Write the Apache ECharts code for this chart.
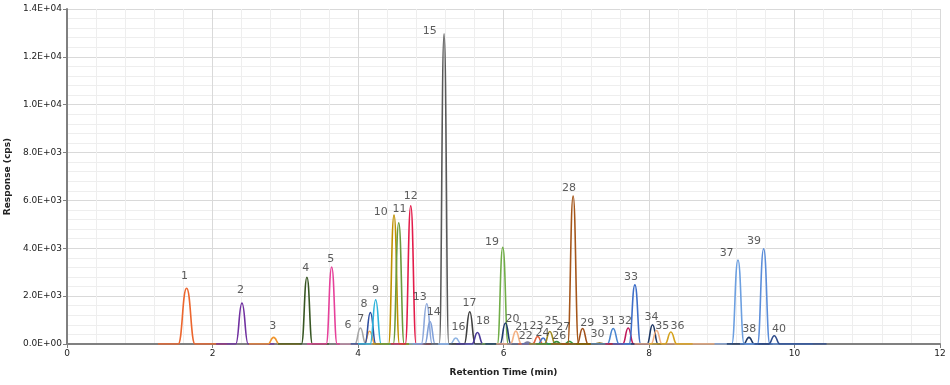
<!DOCTYPE html>
<html>
<head>
<meta charset="utf-8">
<script src="https://cdn.jsdelivr.net/npm/echarts@6/dist/echarts.min.js"></script>
<style>html,body{margin:0;padding:0;background:#fff}#c{width:950px;height:385px}</style>
</head>
<body>
<div id="c"></div>
<script>
// ---- data ----
const peakNames = ['1','2','3','4','5','6','7','8','9','10','11','12','13','14','15','16','17','18','19','20',
  '21','22','23','24','25','26','27','28','29','30','31','32','33','34','35','36','37','38','39','40'];
const apexTime = [1.644,2.405,2.84,3.298,3.638,4.16,4.033,4.17,4.243,4.495,4.56,4.725,4.945,4.99,5.183,5.344,5.536,5.642,5.99,6.027,
  6.17,6.33,6.47,6.545,6.637,6.73,6.905,6.957,7.087,7.32,7.508,7.714,7.806,8.049,8.104,8.301,9.223,9.374,9.576,9.722];
const apexHeight = [2330,1710,275,2790,3220,530,667,1317,1846,5390,5070,5780,1680,943,12960,250,1346,483,4040,875,
  540,80,316,250,525,100,110,6180,650,40,650,667,2470,804,567,500,3512,275,3983,346];
// full width at the foot of each peak (min)
const baseWidth = [0.23,0.17,0.16,0.15,0.15,0.15,0.15,0.15,0.15,0.15,0.15,0.15,0.15,0.14,0.13,0.15,0.15,0.15,0.15,0.15,
  0.15,0.14,0.14,0.14,0.15,0.14,0.14,0.15,0.15,0.14,0.16,0.15,0.16,0.15,0.15,0.16,0.17,0.15,0.17,0.15];
const traceStart = [1.25,2.05,2.5,2.9,3.3,3.9,3.75,3.9,4.0,4.2,4.3,4.45,4.7,4.75,4.9,5.1,5.25,5.35,5.7,5.75,
  5.9,6.05,6.2,6.25,6.35,6.45,6.6,6.65,6.8,7.0,7.2,7.4,7.5,7.75,7.8,8.0,8.9,9.07,9.25,9.45];
const traceEnd = [2.2,2.85,3.2,3.6,4.0,4.4,4.3,4.5,4.6,4.8,4.9,5.0,5.3,5.35,5.5,5.7,5.85,6.0,6.3,6.35,
  6.5,6.65,6.8,6.85,6.95,7.05,7.2,7.3,7.4,7.6,7.8,8.0,8.1,8.35,9.07,8.6,9.55,9.7,10.25,10.44];
const labelTime = [1.616,2.386,2.827,3.281,3.625,3.862,4.037,4.083,4.239,4.312,4.569,4.725,4.849,5.041,4.986,5.381,5.532,5.719,5.843,6.124,
  6.256,6.307,6.454,6.536,6.66,6.765,6.82,6.902,7.15,7.293,7.448,7.669,7.751,8.036,8.182,8.393,9.067,9.379,9.443,9.787];
const labelHeight = [2846,2263,763,3179,3554,775,1054,1679,2233,5525,5638,6179,1942,1333,13054,708,1708,942,4275,1054,
  692,317,733,458,971,346,692,6500,875,417,942,942,2792,1125,733,733,3792,637,4304,625];
const peakColors = ['#EC662E','#7030A0','#F0962E','#375623','#E6409A','#F4A048','#A6A6A6','#2F4FA0','#2EB4DC','#BF9000',
  '#6B9A3A','#E31C4A','#8EA9DB','#7F9FD8','#595959','#8EB4E3','#404040','#4B3A9A','#70AD47','#1F3A6E',
  '#F4B183','#7F7F9F','#E0603C','#4472C4','#A08A20','#3C8C3C','#2E9A3E','#A5561A','#A0501A','#7F6000',
  '#4A86D0','#C0185A','#3E6EC8','#1F3864','#F4B183','#D5A21D','#6C9FE0','#1F3864','#5B8DD9','#2F4C8C'];
const xTicks = [0,2,4,6,8,10,12];
const yTicks = [0,2000,4000,6000,8000,10000,12000,14000];

function expLabel(v){
  if (v === 0) return '0.0E+00';
  const e = Math.floor(Math.log10(v) + 1e-9);
  const m = (v / Math.pow(10, e)).toFixed(1);
  return m + 'E+' + (e < 10 ? '0' + e : e);
}

const series = peakNames.map((n, i) => ({
  type: 'line',
  name: 'Peak ' + n,
  smooth: 0.5,
  smoothMonotone: 'x',
  showSymbol: false,
  symbol: 'none',
  silent: true,
  lineStyle: { width: 1.6, color: peakColors[i] },
  itemStyle: { color: peakColors[i] },
  data: [
    [traceStart[i], 0],
    [apexTime[i] - baseWidth[i] / 2, 0],
    [apexTime[i], apexHeight[i]],
    [apexTime[i] + baseWidth[i] / 2, 0],
    [traceEnd[i], 0]
  ]
}));

series.push({
  type: 'scatter',
  symbolSize: 0,
  silent: true,
  z: 10,
  data: peakNames.map((n, i) => ({ value: [labelTime[i], labelHeight[i]], name: n })),
  label: {
    show: true,
    position: 'inside',
    formatter: p => p.name,
    color: '#333333',
    fontFamily: 'DejaVu Sans',
    fontSize: 11,
    align: 'center',
    verticalAlign: 'middle'
  }
});

const chart = echarts.init(document.getElementById('c'), null, { renderer: 'canvas' });
chart.setOption({
  animation: false,
  backgroundColor: '#ffffff',
  grid: { left: 67, right: 10, top: 9, bottom: 41, containLabel: false, outerBoundsMode: 'none' },
  xAxis: {
    type: 'value',
    min: xTicks[0], max: xTicks[xTicks.length - 1], interval: 2,
    name: 'Retention Time (min)',
    nameLocation: 'middle',
    nameGap: 24,
    nameTextStyle: { fontFamily: 'DejaVu Sans', fontWeight: 'bold', fontSize: 9, color: '#222' },
    axisLine: { lineStyle: { color: '#808080', width: 2 } },
    axisTick: { show: true, length: 4, lineStyle: { color: '#808080' } },
    axisLabel: { fontFamily: 'DejaVu Sans', fontSize: 9, color: '#222', margin: 5 },
    splitLine: { show: true, lineStyle: { color: '#d9d9d9', width: 1 } },
    minorTick: { show: false, splitNumber: 5 },
    minorSplitLine: { show: true, lineStyle: { color: '#eeeeee', width: 1 } }
  },
  yAxis: {
    type: 'value',
    min: yTicks[0], max: yTicks[yTicks.length - 1], interval: 2000,
    name: 'Response (cps)',
    nameLocation: 'middle',
    nameGap: 47,
    nameTextStyle: { fontFamily: 'DejaVu Sans', fontWeight: 'bold', fontSize: 9, color: '#222' },
    axisLine: { show: true, lineStyle: { color: '#808080', width: 2 } },
    axisTick: { show: true, length: 4, lineStyle: { color: '#808080' } },
    axisLabel: { fontFamily: 'DejaVu Sans', fontSize: 9, color: '#222', margin: 5, formatter: expLabel },
    splitLine: { show: true, lineStyle: { color: '#d9d9d9', width: 1 } },
    minorTick: { show: false, splitNumber: 5 },
    minorSplitLine: { show: true, lineStyle: { color: '#eeeeee', width: 1 } }
  },
  series: series
});
</script>
</body>
</html>
